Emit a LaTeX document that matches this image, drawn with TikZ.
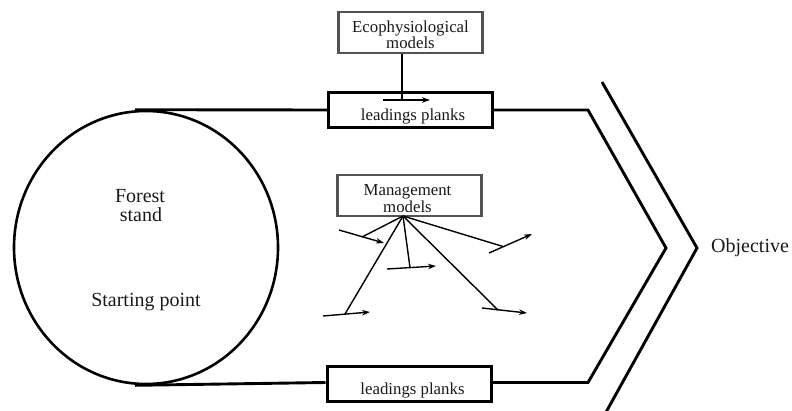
\documentclass[tikz,border=0pt]{standalone}
\usepackage{fontspec}
\setmainfont{Liberation Serif}
\usetikzlibrary{arrows.meta,shapes.geometric}
\begin{document}
\begin{tikzpicture}[x=1pt,y=-1pt,
  mainline/.style={line width=2.9pt,line join=miter},
  plank/.style={draw,line width=3pt,rectangle,minimum width=164pt,minimum height=35pt,inner sep=0pt},
  modelbox/.style={draw=black!68,line width=2.8pt,rectangle,minimum width=144pt,minimum height=41pt,inner sep=0pt},
  boxtext/.style={anchor=base,inner sep=0pt,text=black!90,font=\fontsize{16.8}{17}\selectfont},
  bigtext/.style={anchor=base,inner sep=0pt,text=black!90,font=\fontsize{20}{20}\selectfont},
  thin/.style={line width=1.4pt},
  thinarrow/.style={line width=1.4pt,-{Stealth[length=8pt,width=5.5pt]}}]
\useasboundingbox (0,0) rectangle (792,410);

% starting point
\node[draw,ellipse,line width=2.6pt,minimum width=264pt,minimum height=273pt,inner sep=0pt] (stand) at (146,247.5) {};
\node[bigtext] (forest) at (140,202) {Forest};
\node[bigtext] (standtxt) at (141,221) {stand};
\node[bigtext] (start) at (146,306) {Starting point};

% leading planks
\node[plank] (topplank) at (410.5,109.5) {};
\node[boxtext] (toplabel) at (413,120) {leadings planks};
\node[plank] (botplank) at (409,384) {};
\node[boxtext] (botlabel) at (412.5,394) {leadings planks};

% models
\node[modelbox] (eco) at (410.5,32.5) {};
\node[boxtext] (ecoA) at (410.5,32) {Ecophysiological};
\node[boxtext] (ecoB) at (410.5,48) {models};
\node[modelbox] (mgmt) at (409.5,195.5) {};
\node[boxtext] (mgmtA) at (407.5,195) {Management};
\node[boxtext] (mgmtB) at (407.5,212) {models};

% corridor towards the objective
\coordinate (c1) at (588,110);
\coordinate (tip) at (666,248);
\coordinate (c2) at (588,382.5);
\draw[mainline] (stand.north -| 135,0) -- (topplank.west |- c1);
\draw[mainline] (stand.south -| 135,0) -- (botplank.west |- c2);
\draw[mainline] (topplank.east |- c1) -- (c1) -- (tip) -- (c2) -- (botplank.east |- c2);

% objective chevron
\coordinate (o1) at (602,82);
\coordinate (o2) at (697,248);
\coordinate (o3) at (605,414);
\draw[mainline] (o1) -- (o2) -- (o3);
\node[bigtext,anchor=west] (objective) at (711,248) {Objective};

% ecophysiological influence
\coordinate (ecofoot) at (402,100);
\coordinate (ecoS) at (383,100);
\coordinate (ecoE) at (430,100);
\draw[thin] (eco.south -| ecofoot) -- (ecofoot);
\draw[thinarrow] (ecoS) -- (ecoE);

% management interventions
\coordinate (hub) at (403,216);
\coordinate (a1s) at (339,230); \coordinate (a1e) at (384,243); \coordinate (a1b) at (362,237);
\coordinate (a2s) at (323,316); \coordinate (a2e) at (370,312); \coordinate (a2b) at (345,314);
\coordinate (a3s) at (387,269); \coordinate (a3e) at (436,266); \coordinate (a3b) at (410,267.5);
\coordinate (a4s) at (482,308); \coordinate (a4e) at (527,313); \coordinate (a4b) at (498,310);
\coordinate (a5s) at (489,253); \coordinate (a5e) at (532,234); \coordinate (a5b) at (503,246.5);
\foreach \k in {1,...,5}{
  \draw[thin] (hub) -- (a\k b);
  \draw[thinarrow] (a\k s) -- (a\k e);
}
\end{tikzpicture}
\end{document}
